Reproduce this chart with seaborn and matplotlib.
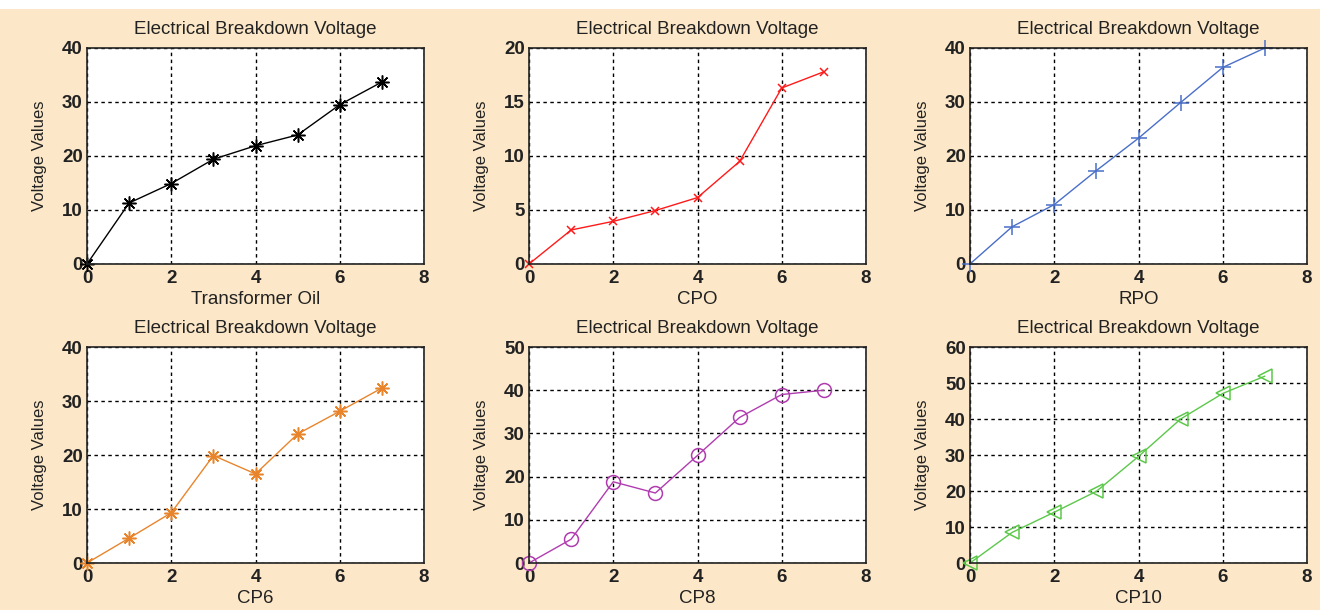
import matplotlib
matplotlib.use("Agg")
import matplotlib.pyplot as plt
import seaborn as sns
from matplotlib.patches import Rectangle

# Sample index along the x axis
x = [0, 1, 2, 3, 4, 5, 6, 7]

# Breakdown voltage values
transformer_oil = [0, 11.3, 14.9, 19.4, 21.9, 23.9, 29.5, 33.7]
cpo = [0, 3.15, 3.95, 4.95, 6.15, 9.5, 16.3, 17.8]
rpo = [0, 6.9, 11.0, 17.3, 23.3, 29.9, 36.4, 40.0]
cp6 = [0, 4.6, 9.3, 19.9, 16.5, 23.9, 28.1, 32.4]
cp8 = [0, 5.5, 18.8, 16.2, 24.9, 33.7, 39.0, 40.0]
cp10 = [0, 8.5, 14.1, 19.9, 29.6, 40.0, 47.1, 51.9]

xlabels = ["Transformer Oil", "CPO", "RPO", "CP6", "CP8", "CP10"]
ymax = [40, 20, 40, 40, 50, 60]
ystep = [10, 5, 10, 10, 10, 10]

series = [transformer_oil, cpo, rpo, cp6, cp8, cp10]
colors = ["black", "#ff1a1a", "#4a6fc8", "#e8852c", "#b03cb0", "#5cc84a"]
markers = [(8, 2, 0), "x", "+", (8, 2, 0), "o", "<"]
msizes = [10, 6, 11, 10, 10, 10]

sns.set_style("white")
plt.rcParams["font.family"] = ["Liberation Sans", "DejaVu Sans"]

bg = "#fce8c8"
W, H = 1325, 610
fig = plt.figure(figsize=(13.25, 6.1), dpi=100, facecolor=bg)
# white page margins around the figure panel
fig.add_artist(Rectangle((0, 1 - 9 / H), 1, 9 / H, transform=fig.transFigure,
                         facecolor="white", edgecolor="none"))
fig.add_artist(Rectangle((1 - 5 / W, 0), 5 / W, 1, transform=fig.transFigure,
                         facecolor="white", edgecolor="none"))

lefts = [87, 529, 970]
tops = [48, 347]

for i, vals in enumerate(series):
    r, c = divmod(i, 3)
    left = lefts[c] / W
    bottom = 1 - (tops[r] + 216) / H
    ax = fig.add_axes([left, bottom, 337 / W, 216 / H])
    ax.set_facecolor("white")

    sns.lineplot(x=x, y=vals, ax=ax, color=colors[i], linewidth=1,
                 marker=markers[i], markersize=msizes[i],
                 markerfacecolor="none", markeredgecolor=colors[i],
                 markeredgewidth=1.1, zorder=3, clip_on=False)

    ax.set_xlim(0, 8)
    ax.set_ylim(0, ymax[i])
    ax.set_xticks(range(0, 9, 2))
    ax.set_yticks(range(0, ymax[i] + 1, ystep[i]))
    ax.grid(True, color="black", linestyle=(0, (2.5, 2.5)), linewidth=1)
    ax.tick_params(labelsize=13.5, length=0, pad=3, labelcolor="#222222")
    ax.tick_params(axis="x", pad=4)
    for lab in ax.get_xticklabels() + ax.get_yticklabels():
        lab.set_fontweight("bold")
    for s in ax.spines.values():
        s.set_visible(True)
        s.set_color("#222222")
        s.set_linewidth(1.2)
        s.set_zorder(4)

    ax.set_title("Electrical Breakdown Voltage", fontsize=13.5, pad=10, color="#222222")
    ax.set_xlabel(xlabels[i], fontsize=13.5, labelpad=3, color="#222222")
    ax.set_ylabel("Voltage Values", fontsize=12, labelpad=11, color="#222222")

fig.savefig("out.png", dpi=100, facecolor=bg)
